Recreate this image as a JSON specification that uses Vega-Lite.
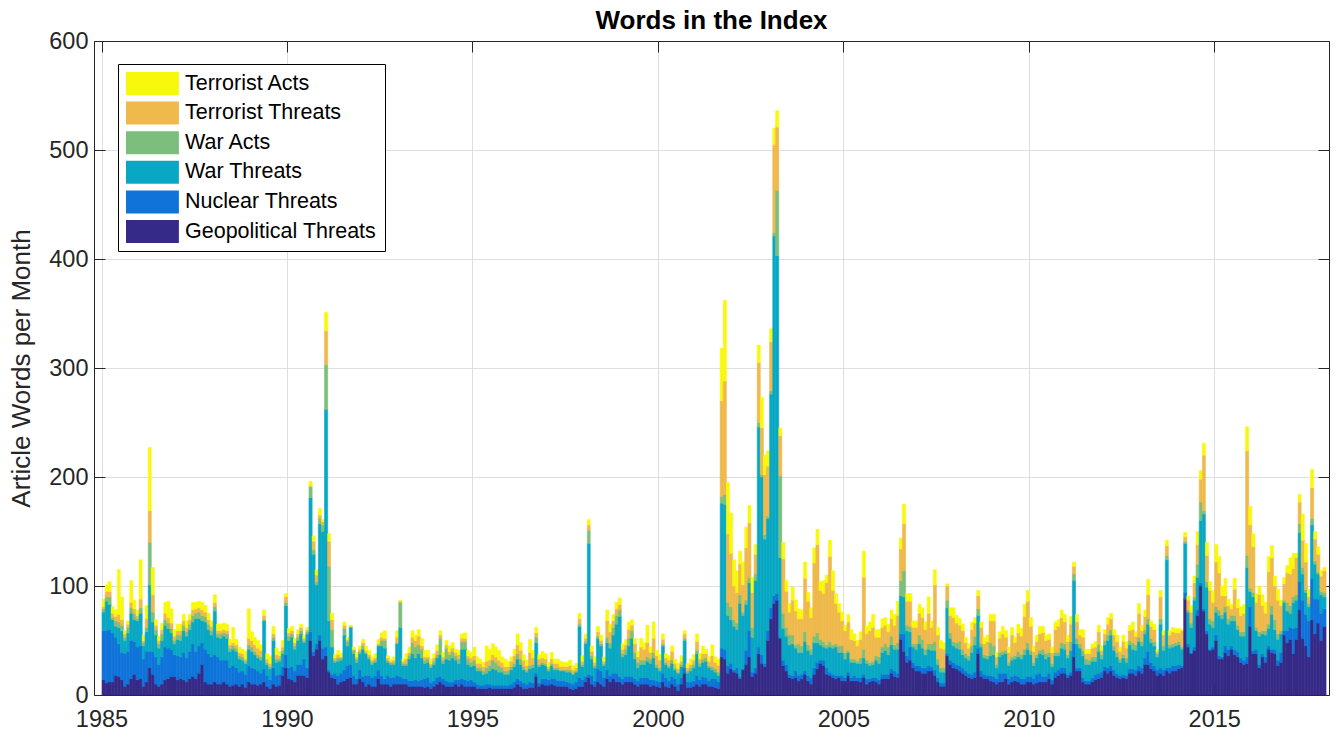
{
"$schema": "https://vega.github.io/schema/vega-lite/v6.json",
"width": 1235, "height": 654,
"autosize": {"type": "none"},
"padding": {"left": 94, "top": 41, "right": 8, "bottom": 43},
"background": "white",
"title": {"text": "Words in the Index", "fontSize": 26, "fontWeight": "bold", "font": "Liberation Sans", "color": "#000000", "anchor": "middle", "frame": "group", "baseline": "alphabetic", "offset": 0, "dy": 26},
"config": {"view": {"stroke": null}, "font": "Liberation Sans", "axis": {"minExtent": 0}},
"datasets": {
"series": [
{"key": "g", "name": "Geopolitical Threats", "rank": 1},
{"key": "n", "name": "Nuclear Threats", "rank": 2},
{"key": "w", "name": "War Threats", "rank": 3},
{"key": "a", "name": "War Acts", "rank": 4},
{"key": "t", "name": "Terrorist Threats", "rank": 5},
{"key": "y", "name": "Terrorist Acts", "rank": 6}
],
"gpr": [
{"m":"1985-01","g":14,"n":45,"w":17,"a":3,"t":2,"y":7},
{"m":"1985-02","g":11,"n":48,"w":27,"a":4,"t":5,"y":6},
{"m":"1985-03","g":12,"n":48,"w":23,"a":7,"t":5,"y":9},
{"m":"1985-04","g":12,"n":45,"w":12,"a":2,"t":4,"y":6},
{"m":"1985-05","g":18,"n":35,"w":10,"a":5,"t":4,"y":6},
{"m":"1985-06","g":17,"n":30,"w":15,"a":5,"t":7,"y":41},
{"m":"1985-07","g":14,"n":25,"w":20,"a":5,"t":5,"y":21},
{"m":"1985-08","g":8,"n":30,"w":12,"a":3,"t":3,"y":3},
{"m":"1985-09","g":10,"n":30,"w":17,"a":5,"t":3,"y":3},
{"m":"1985-10","g":15,"n":35,"w":25,"a":5,"t":5,"y":20},
{"m":"1985-11","g":19,"n":30,"w":20,"a":6,"t":4,"y":8},
{"m":"1985-12","g":14,"n":30,"w":24,"a":2,"t":3,"y":5},
{"m":"1986-01","g":15,"n":30,"w":30,"a":5,"t":8,"y":36},
{"m":"1986-02","g":8,"n":25,"w":12,"a":3,"t":2,"y":5},
{"m":"1986-03","g":12,"n":28,"w":18,"a":4,"t":8,"y":12},
{"m":"1986-04","g":25,"n":15,"w":61,"a":39,"t":29,"y":58},
{"m":"1986-05","g":19,"n":21,"w":27,"a":9,"t":16,"y":25},
{"m":"1986-06","g":10,"n":25,"w":20,"a":5,"t":4,"y":5},
{"m":"1986-07","g":8,"n":20,"w":15,"a":4,"t":3,"y":4},
{"m":"1986-08","g":10,"n":25,"w":15,"a":6,"t":4,"y":6},
{"m":"1986-09","g":14,"n":30,"w":20,"a":5,"t":6,"y":10},
{"m":"1986-10","g":15,"n":28,"w":18,"a":5,"t":5,"y":15},
{"m":"1986-11","g":17,"n":25,"w":15,"a":4,"t":5,"y":13},
{"m":"1986-12","g":17,"n":20,"w":10,"a":3,"t":4,"y":6},
{"m":"1987-01","g":14,"n":22,"w":15,"a":4,"t":4,"y":6},
{"m":"1987-02","g":15,"n":20,"w":15,"a":5,"t":4,"y":6},
{"m":"1987-03","g":14,"n":25,"w":20,"a":5,"t":4,"y":6},
{"m":"1987-04","g":12,"n":22,"w":20,"a":4,"t":4,"y":6},
{"m":"1987-05","g":15,"n":25,"w":20,"a":5,"t":4,"y":5},
{"m":"1987-06","g":17,"n":30,"w":20,"a":6,"t":5,"y":7},
{"m":"1987-07","g":15,"n":25,"w":30,"a":5,"t":4,"y":6},
{"m":"1987-08","g":20,"n":25,"w":25,"a":6,"t":4,"y":6},
{"m":"1987-09","g":28,"n":20,"w":20,"a":5,"t":5,"y":7},
{"m":"1987-10","g":12,"n":30,"w":25,"a":5,"t":4,"y":6},
{"m":"1987-11","g":10,"n":28,"w":22,"a":5,"t":4,"y":6},
{"m":"1987-12","g":10,"n":25,"w":20,"a":4,"t":4,"y":5},
{"m":"1988-01","g":12,"n":25,"w":40,"a":4,"t":4,"y":7},
{"m":"1988-02","g":10,"n":25,"w":18,"a":3,"t":3,"y":6},
{"m":"1988-03","g":10,"n":22,"w":20,"a":4,"t":3,"y":6},
{"m":"1988-04","g":12,"n":20,"w":22,"a":3,"t":3,"y":6},
{"m":"1988-05","g":10,"n":22,"w":20,"a":4,"t":3,"y":6},
{"m":"1988-06","g":8,"n":17,"w":15,"a":3,"t":3,"y":5},
{"m":"1988-07","g":9,"n":18,"w":15,"a":3,"t":3,"y":14},
{"m":"1988-08","g":10,"n":15,"w":15,"a":3,"t":3,"y":5},
{"m":"1988-09","g":8,"n":13,"w":12,"a":3,"t":3,"y":5},
{"m":"1988-10","g":10,"n":12,"w":10,"a":3,"t":3,"y":4},
{"m":"1988-11","g":7,"n":12,"w":10,"a":2,"t":2,"y":7},
{"m":"1988-12","g":12,"n":15,"w":15,"a":4,"t":6,"y":27},
{"m":"1989-01","g":10,"n":15,"w":15,"a":4,"t":6,"y":8},
{"m":"1989-02","g":10,"n":14,"w":13,"a":3,"t":6,"y":7},
{"m":"1989-03","g":9,"n":13,"w":12,"a":3,"t":6,"y":7},
{"m":"1989-04","g":10,"n":10,"w":12,"a":3,"t":6,"y":5},
{"m":"1989-05","g":12,"n":12,"w":44,"a":1,"t":4,"y":5},
{"m":"1989-06","g":8,"n":10,"w":10,"a":2,"t":3,"y":5},
{"m":"1989-07","g":6,"n":8,"w":10,"a":2,"t":3,"y":7},
{"m":"1989-08","g":10,"n":15,"w":25,"a":3,"t":3,"y":7},
{"m":"1989-09","g":8,"n":10,"w":12,"a":3,"t":4,"y":6},
{"m":"1989-10","g":9,"n":10,"w":12,"a":2,"t":3,"y":4},
{"m":"1989-11","g":18,"n":8,"w":12,"a":3,"t":3,"y":6},
{"m":"1989-12","g":25,"n":12,"w":45,"a":3,"t":5,"y":3},
{"m":"1990-01","g":15,"n":10,"w":25,"a":4,"t":3,"y":4},
{"m":"1990-02","g":14,"n":12,"w":27,"a":3,"t":3,"y":4},
{"m":"1990-03","g":12,"n":10,"w":20,"a":3,"t":3,"y":4},
{"m":"1990-04","g":18,"n":10,"w":22,"a":3,"t":3,"y":4},
{"m":"1990-05","g":18,"n":10,"w":28,"a":3,"t":3,"y":3},
{"m":"1990-06","g":18,"n":15,"w":15,"a":2,"t":2,"y":3},
{"m":"1990-07","g":16,"n":9,"w":31,"a":2,"t":2,"y":2},
{"m":"1990-08","g":50,"n":8,"w":123,"a":10,"t":1,"y":4},
{"m":"1990-09","g":36,"n":4,"w":89,"a":4,"t":8,"y":5},
{"m":"1990-10","g":42,"n":5,"w":54,"a":3,"t":6,"y":5},
{"m":"1990-11","g":50,"n":5,"w":102,"a":5,"t":3,"y":6},
{"m":"1990-12","g":33,"n":10,"w":107,"a":6,"t":3,"y":2},
{"m":"1991-01","g":36,"n":8,"w":218,"a":41,"t":31,"y":17},
{"m":"1991-02","g":21,"n":2,"w":45,"a":50,"t":23,"y":7},
{"m":"1991-03","g":16,"n":3,"w":25,"a":16,"t":9,"y":6},
{"m":"1991-04","g":15,"n":5,"w":10,"a":2,"t":2,"y":3},
{"m":"1991-05","g":10,"n":8,"w":13,"a":3,"t":3,"y":4},
{"m":"1991-06","g":12,"n":8,"w":12,"a":2,"t":1,"y":3},
{"m":"1991-07","g":13,"n":10,"w":32,"a":6,"t":3,"y":3},
{"m":"1991-08","g":15,"n":12,"w":18,"a":4,"t":2,"y":2},
{"m":"1991-09","g":16,"n":12,"w":34,"a":1,"t":0,"y":1},
{"m":"1991-10","g":10,"n":8,"w":20,"a":3,"t":1,"y":2},
{"m":"1991-11","g":10,"n":5,"w":15,"a":3,"t":2,"y":4},
{"m":"1991-12","g":15,"n":8,"w":15,"a":2,"t":2,"y":3},
{"m":"1992-01","g":12,"n":5,"w":25,"a":3,"t":3,"y":3},
{"m":"1992-02","g":8,"n":10,"w":20,"a":1,"t":2,"y":4},
{"m":"1992-03","g":10,"n":8,"w":15,"a":2,"t":2,"y":4},
{"m":"1992-04","g":8,"n":8,"w":12,"a":2,"t":2,"y":3},
{"m":"1992-05","g":8,"n":10,"w":12,"a":2,"t":2,"y":4},
{"m":"1992-06","g":15,"n":8,"w":22,"a":1,"t":1,"y":4},
{"m":"1992-07","g":10,"n":8,"w":27,"a":5,"t":3,"y":4},
{"m":"1992-08","g":10,"n":5,"w":28,"a":7,"t":2,"y":7},
{"m":"1992-09","g":10,"n":8,"w":12,"a":2,"t":2,"y":2},
{"m":"1992-10","g":8,"n":8,"w":12,"a":2,"t":1,"y":2},
{"m":"1992-11","g":10,"n":6,"w":12,"a":2,"t":2,"y":3},
{"m":"1992-12","g":10,"n":8,"w":29,"a":1,"t":5,"y":6},
{"m":"1993-01","g":10,"n":7,"w":45,"a":23,"t":1,"y":1},
{"m":"1993-02","g":10,"n":5,"w":12,"a":2,"t":2,"y":2},
{"m":"1993-03","g":10,"n":5,"w":12,"a":2,"t":4,"y":5},
{"m":"1993-04","g":8,"n":5,"w":20,"a":3,"t":3,"y":5},
{"m":"1993-05","g":8,"n":5,"w":25,"a":10,"t":5,"y":6},
{"m":"1993-06","g":8,"n":6,"w":20,"a":10,"t":6,"y":5},
{"m":"1993-07","g":8,"n":5,"w":25,"a":8,"t":8,"y":6},
{"m":"1993-08","g":8,"n":6,"w":20,"a":8,"t":3,"y":7},
{"m":"1993-09","g":7,"n":8,"w":14,"a":3,"t":3,"y":6},
{"m":"1993-10","g":8,"n":8,"w":14,"a":3,"t":2,"y":6},
{"m":"1993-11","g":6,"n":5,"w":14,"a":2,"t":2,"y":4},
{"m":"1993-12","g":8,"n":5,"w":15,"a":3,"t":3,"y":4},
{"m":"1994-01","g":10,"n":6,"w":18,"a":3,"t":4,"y":5},
{"m":"1994-02","g":12,"n":5,"w":20,"a":15,"t":3,"y":4},
{"m":"1994-03","g":10,"n":5,"w":14,"a":3,"t":3,"y":4},
{"m":"1994-04","g":8,"n":5,"w":20,"a":10,"t":3,"y":4},
{"m":"1994-05","g":8,"n":4,"w":20,"a":5,"t":3,"y":5},
{"m":"1994-06","g":8,"n":4,"w":22,"a":6,"t":3,"y":5},
{"m":"1994-07","g":10,"n":4,"w":18,"a":4,"t":3,"y":3},
{"m":"1994-08","g":8,"n":6,"w":15,"a":4,"t":4,"y":4},
{"m":"1994-09","g":10,"n":5,"w":27,"a":7,"t":3,"y":4},
{"m":"1994-10","g":8,"n":6,"w":28,"a":7,"t":3,"y":5},
{"m":"1994-11","g":8,"n":5,"w":15,"a":5,"t":3,"y":5},
{"m":"1994-12","g":8,"n":6,"w":12,"a":4,"t":4,"y":5},
{"m":"1995-01","g":8,"n":4,"w":15,"a":5,"t":4,"y":8},
{"m":"1995-02","g":6,"n":4,"w":12,"a":3,"t":4,"y":6},
{"m":"1995-03","g":6,"n":3,"w":13,"a":3,"t":4,"y":4},
{"m":"1995-04","g":6,"n":3,"w":10,"a":3,"t":4,"y":4},
{"m":"1995-05","g":6,"n":4,"w":10,"a":5,"t":6,"y":14},
{"m":"1995-06","g":7,"n":3,"w":12,"a":5,"t":5,"y":10},
{"m":"1995-07","g":6,"n":3,"w":15,"a":8,"t":5,"y":10},
{"m":"1995-08","g":6,"n":3,"w":14,"a":7,"t":5,"y":9},
{"m":"1995-09","g":6,"n":3,"w":12,"a":6,"t":5,"y":9},
{"m":"1995-10","g":6,"n":3,"w":12,"a":4,"t":5,"y":5},
{"m":"1995-11","g":6,"n":3,"w":10,"a":3,"t":4,"y":7},
{"m":"1995-12","g":6,"n":3,"w":10,"a":3,"t":4,"y":5},
{"m":"1996-01","g":6,"n":4,"w":13,"a":3,"t":5,"y":4},
{"m":"1996-02","g":7,"n":5,"w":14,"a":3,"t":7,"y":6},
{"m":"1996-03","g":10,"n":5,"w":18,"a":5,"t":8,"y":10},
{"m":"1996-04","g":8,"n":5,"w":15,"a":5,"t":8,"y":7},
{"m":"1996-05","g":6,"n":5,"w":12,"a":3,"t":6,"y":5},
{"m":"1996-06","g":6,"n":4,"w":11,"a":2,"t":4,"y":5},
{"m":"1996-07","g":7,"n":5,"w":12,"a":3,"t":12,"y":12},
{"m":"1996-08","g":7,"n":4,"w":14,"a":3,"t":6,"y":7},
{"m":"1996-09","g":17,"n":3,"w":28,"a":5,"t":4,"y":5},
{"m":"1996-10","g":8,"n":3,"w":15,"a":2,"t":5,"y":4},
{"m":"1996-11","g":10,"n":5,"w":13,"a":2,"t":4,"y":6},
{"m":"1996-12","g":9,"n":6,"w":12,"a":2,"t":4,"y":5},
{"m":"1997-01","g":9,"n":5,"w":8,"a":2,"t":2,"y":4},
{"m":"1997-02","g":10,"n":5,"w":12,"a":2,"t":4,"y":6},
{"m":"1997-03","g":9,"n":6,"w":8,"a":2,"t":4,"y":4},
{"m":"1997-04","g":8,"n":5,"w":10,"a":2,"t":4,"y":4},
{"m":"1997-05","g":8,"n":5,"w":9,"a":1,"t":3,"y":5},
{"m":"1997-06","g":8,"n":5,"w":9,"a":1,"t":3,"y":4},
{"m":"1997-07","g":8,"n":4,"w":9,"a":2,"t":3,"y":4},
{"m":"1997-08","g":6,"n":5,"w":10,"a":2,"t":4,"y":5},
{"m":"1997-09","g":5,"n":5,"w":9,"a":1,"t":3,"y":4},
{"m":"1997-10","g":6,"n":6,"w":9,"a":1,"t":3,"y":4},
{"m":"1997-11","g":8,"n":8,"w":47,"a":2,"t":5,"y":5},
{"m":"1997-12","g":8,"n":6,"w":12,"a":2,"t":3,"y":5},
{"m":"1998-01","g":12,"n":5,"w":30,"a":2,"t":3,"y":4},
{"m":"1998-02","g":16,"n":3,"w":120,"a":12,"t":5,"y":5},
{"m":"1998-03","g":10,"n":8,"w":15,"a":3,"t":4,"y":5},
{"m":"1998-04","g":8,"n":5,"w":12,"a":2,"t":3,"y":5},
{"m":"1998-05","g":12,"n":12,"w":28,"a":2,"t":4,"y":5},
{"m":"1998-06","g":10,"n":12,"w":23,"a":2,"t":3,"y":5},
{"m":"1998-07","g":8,"n":8,"w":11,"a":2,"t":2,"y":4},
{"m":"1998-08","g":15,"n":8,"w":25,"a":5,"t":15,"y":10},
{"m":"1998-09","g":12,"n":6,"w":25,"a":5,"t":10,"y":7},
{"m":"1998-10","g":15,"n":5,"w":35,"a":7,"t":6,"y":6},
{"m":"1998-11","g":12,"n":8,"w":45,"a":8,"t":6,"y":6},
{"m":"1998-12","g":12,"n":5,"w":55,"a":6,"t":5,"y":6},
{"m":"1999-01","g":10,"n":5,"w":20,"a":3,"t":4,"y":5},
{"m":"1999-02","g":12,"n":5,"w":20,"a":5,"t":4,"y":5},
{"m":"1999-03","g":12,"n":5,"w":28,"a":7,"t":8,"y":7},
{"m":"1999-04","g":12,"n":5,"w":35,"a":7,"t":5,"y":5},
{"m":"1999-05","g":10,"n":5,"w":18,"a":6,"t":8,"y":5},
{"m":"1999-06","g":8,"n":5,"w":12,"a":5,"t":5,"y":5},
{"m":"1999-07","g":10,"n":6,"w":12,"a":4,"t":12,"y":8},
{"m":"1999-08","g":10,"n":6,"w":12,"a":4,"t":10,"y":6},
{"m":"1999-09","g":10,"n":6,"w":15,"a":4,"t":13,"y":16},
{"m":"1999-10","g":8,"n":6,"w":15,"a":4,"t":6,"y":5},
{"m":"1999-11","g":9,"n":5,"w":20,"a":5,"t":13,"y":15},
{"m":"1999-12","g":8,"n":5,"w":12,"a":3,"t":8,"y":5},
{"m":"2000-01","g":7,"n":5,"w":10,"a":3,"t":7,"y":5},
{"m":"2000-02","g":12,"n":8,"w":25,"a":2,"t":4,"y":5},
{"m":"2000-03","g":8,"n":8,"w":12,"a":2,"t":4,"y":4},
{"m":"2000-04","g":7,"n":6,"w":12,"a":2,"t":5,"y":4},
{"m":"2000-05","g":10,"n":7,"w":12,"a":3,"t":8,"y":5},
{"m":"2000-06","g":8,"n":7,"w":8,"a":2,"t":4,"y":4},
{"m":"2000-07","g":4,"n":6,"w":10,"a":1,"t":3,"y":5},
{"m":"2000-08","g":10,"n":6,"w":10,"a":2,"t":3,"y":5},
{"m":"2000-09","g":20,"n":5,"w":25,"a":2,"t":4,"y":3},
{"m":"2000-10","g":7,"n":5,"w":8,"a":2,"t":3,"y":4},
{"m":"2000-11","g":7,"n":5,"w":10,"a":3,"t":3,"y":5},
{"m":"2000-12","g":8,"n":5,"w":12,"a":3,"t":4,"y":5},
{"m":"2001-01","g":10,"n":8,"w":20,"a":3,"t":8,"y":7},
{"m":"2001-02","g":8,"n":6,"w":12,"a":3,"t":4,"y":5},
{"m":"2001-03","g":10,"n":7,"w":13,"a":3,"t":5,"y":7},
{"m":"2001-04","g":10,"n":6,"w":15,"a":3,"t":4,"y":4},
{"m":"2001-05","g":8,"n":5,"w":12,"a":2,"t":4,"y":4},
{"m":"2001-06","g":8,"n":7,"w":8,"a":3,"t":10,"y":10},
{"m":"2001-07","g":7,"n":8,"w":6,"a":3,"t":6,"y":5},
{"m":"2001-08","g":6,"n":6,"w":6,"a":3,"t":6,"y":6},
{"m":"2001-09","g":35,"n":8,"w":133,"a":6,"t":88,"y":48},
{"m":"2001-10","g":33,"n":9,"w":133,"a":9,"t":104,"y":74},
{"m":"2001-11","g":20,"n":7,"w":46,"a":12,"t":63,"y":47},
{"m":"2001-12","g":24,"n":5,"w":40,"a":12,"t":49,"y":37},
{"m":"2002-01","g":21,"n":2,"w":40,"a":6,"t":31,"y":24},
{"m":"2002-02","g":20,"n":5,"w":35,"a":6,"t":28,"y":20},
{"m":"2002-03","g":15,"n":2,"w":67,"a":8,"t":28,"y":12},
{"m":"2002-04","g":23,"n":1,"w":49,"a":3,"t":25,"y":21},
{"m":"2002-05","g":28,"n":13,"w":42,"a":4,"t":48,"y":19},
{"m":"2002-06","g":35,"n":24,"w":44,"a":5,"t":50,"y":16},
{"m":"2002-07","g":17,"n":4,"w":32,"a":9,"t":32,"y":14},
{"m":"2002-08","g":20,"n":5,"w":80,"a":6,"t":18,"y":9},
{"m":"2002-09","g":38,"n":6,"w":202,"a":4,"t":55,"y":16},
{"m":"2002-10","g":29,"n":8,"w":163,"a":2,"t":43,"y":28},
{"m":"2002-11","g":26,"n":3,"w":114,"a":4,"t":55,"y":18},
{"m":"2002-12","g":50,"n":9,"w":103,"a":2,"t":46,"y":14},
{"m":"2003-01","g":70,"n":10,"w":196,"a":3,"t":45,"y":12},
{"m":"2003-02","g":84,"n":7,"w":330,"a":3,"t":81,"y":15},
{"m":"2003-03","g":87,"n":6,"w":310,"a":60,"t":58,"y":15},
{"m":"2003-04","g":52,"n":1,"w":73,"a":75,"t":37,"y":7},
{"m":"2003-05","g":27,"n":5,"w":29,"a":14,"t":50,"y":15},
{"m":"2003-06","g":22,"n":6,"w":26,"a":8,"t":33,"y":10},
{"m":"2003-07","g":16,"n":3,"w":27,"a":9,"t":21,"y":8},
{"m":"2003-08","g":15,"n":3,"w":29,"a":8,"t":32,"y":12},
{"m":"2003-09","g":16,"n":6,"w":21,"a":3,"t":31,"y":10},
{"m":"2003-10","g":13,"n":5,"w":21,"a":8,"t":23,"y":9},
{"m":"2003-11","g":15,"n":4,"w":20,"a":6,"t":25,"y":8},
{"m":"2003-12","g":19,"n":3,"w":27,"a":9,"t":49,"y":15},
{"m":"2004-01","g":13,"n":5,"w":23,"a":5,"t":40,"y":8},
{"m":"2004-02","g":10,"n":6,"w":21,"a":5,"t":29,"y":9},
{"m":"2004-03","g":19,"n":6,"w":23,"a":6,"t":67,"y":14},
{"m":"2004-04","g":24,"n":6,"w":18,"a":9,"t":81,"y":14},
{"m":"2004-05","g":29,"n":3,"w":14,"a":5,"t":45,"y":8},
{"m":"2004-06","g":27,"n":5,"w":12,"a":5,"t":44,"y":12},
{"m":"2004-07","g":19,"n":6,"w":18,"a":3,"t":57,"y":7},
{"m":"2004-08","g":18,"n":3,"w":23,"a":5,"t":78,"y":15},
{"m":"2004-09","g":16,"n":3,"w":24,"a":3,"t":50,"y":18},
{"m":"2004-10","g":15,"n":3,"w":26,"a":3,"t":37,"y":9},
{"m":"2004-11","g":16,"n":2,"w":21,"a":6,"t":31,"y":8},
{"m":"2004-12","g":13,"n":5,"w":21,"a":6,"t":23,"y":8},
{"m":"2005-01","g":13,"n":3,"w":17,"a":6,"t":20,"y":5},
{"m":"2005-02","g":18,"n":3,"w":18,"a":2,"t":26,"y":7},
{"m":"2005-03","g":13,"n":3,"w":14,"a":3,"t":18,"y":9},
{"m":"2005-04","g":13,"n":5,"w":12,"a":3,"t":17,"y":6},
{"m":"2005-05","g":13,"n":3,"w":13,"a":2,"t":14,"y":5},
{"m":"2005-06","g":12,"n":4,"w":13,"a":5,"t":17,"y":7},
{"m":"2005-07","g":16,"n":3,"w":15,"a":8,"t":66,"y":24},
{"m":"2005-08","g":10,"n":5,"w":14,"a":3,"t":24,"y":7},
{"m":"2005-09","g":12,"n":3,"w":12,"a":3,"t":29,"y":8},
{"m":"2005-10","g":13,"n":3,"w":12,"a":3,"t":31,"y":12},
{"m":"2005-11","g":12,"n":4,"w":16,"a":4,"t":17,"y":7},
{"m":"2005-12","g":10,"n":4,"w":15,"a":6,"t":18,"y":7},
{"m":"2006-01","g":15,"n":4,"w":20,"a":5,"t":18,"y":8},
{"m":"2006-02","g":15,"n":4,"w":22,"a":6,"t":17,"y":7},
{"m":"2006-03","g":15,"n":4,"w":18,"a":7,"t":14,"y":7},
{"m":"2006-04","g":20,"n":4,"w":22,"a":8,"t":16,"y":8},
{"m":"2006-05","g":17,"n":5,"w":20,"a":4,"t":18,"y":10},
{"m":"2006-06","g":16,"n":4,"w":22,"a":6,"t":25,"y":13},
{"m":"2006-07","g":51,"n":5,"w":35,"a":14,"t":29,"y":10},
{"m":"2006-08","g":40,"n":16,"w":34,"a":24,"t":43,"y":18},
{"m":"2006-09","g":30,"n":6,"w":23,"a":5,"t":22,"y":7},
{"m":"2006-10","g":32,"n":12,"w":14,"a":5,"t":23,"y":7},
{"m":"2006-11","g":25,"n":5,"w":14,"a":3,"t":15,"y":6},
{"m":"2006-12","g":22,"n":5,"w":15,"a":5,"t":15,"y":6},
{"m":"2007-01","g":22,"n":5,"w":20,"a":8,"t":20,"y":8},
{"m":"2007-02","g":20,"n":5,"w":18,"a":8,"t":20,"y":9},
{"m":"2007-03","g":20,"n":5,"w":12,"a":5,"t":18,"y":7},
{"m":"2007-04","g":22,"n":5,"w":15,"a":5,"t":28,"y":15},
{"m":"2007-05","g":22,"n":4,"w":15,"a":6,"t":15,"y":6},
{"m":"2007-06","g":18,"n":5,"w":18,"a":8,"t":52,"y":14},
{"m":"2007-07","g":12,"n":4,"w":12,"a":5,"t":22,"y":7},
{"m":"2007-08","g":8,"n":3,"w":10,"a":4,"t":18,"y":7},
{"m":"2007-09","g":8,"n":3,"w":10,"a":4,"t":17,"y":6},
{"m":"2007-10","g":36,"n":2,"w":42,"a":7,"t":13,"y":2},
{"m":"2007-11","g":28,"n":4,"w":20,"a":5,"t":16,"y":7},
{"m":"2007-12","g":25,"n":5,"w":15,"a":4,"t":22,"y":9},
{"m":"2008-01","g":24,"n":4,"w":15,"a":5,"t":18,"y":7},
{"m":"2008-02","g":22,"n":5,"w":15,"a":7,"t":15,"y":6},
{"m":"2008-03","g":20,"n":5,"w":12,"a":5,"t":17,"y":6},
{"m":"2008-04","g":18,"n":4,"w":12,"a":4,"t":10,"y":5},
{"m":"2008-05","g":16,"n":4,"w":12,"a":4,"t":7,"y":4},
{"m":"2008-06","g":15,"n":4,"w":20,"a":6,"t":15,"y":7},
{"m":"2008-07","g":16,"n":5,"w":25,"a":8,"t":12,"y":5},
{"m":"2008-08","g":38,"n":5,"w":30,"a":6,"t":12,"y":5},
{"m":"2008-09","g":17,"n":5,"w":22,"a":3,"t":15,"y":5},
{"m":"2008-10","g":15,"n":4,"w":15,"a":3,"t":10,"y":6},
{"m":"2008-11","g":15,"n":3,"w":15,"a":3,"t":13,"y":6},
{"m":"2008-12","g":13,"n":5,"w":18,"a":12,"t":20,"y":6},
{"m":"2009-01","g":12,"n":5,"w":20,"a":8,"t":23,"y":6},
{"m":"2009-02","g":10,"n":5,"w":10,"a":3,"t":7,"y":4},
{"m":"2009-03","g":12,"n":8,"w":15,"a":4,"t":13,"y":6},
{"m":"2009-04","g":12,"n":8,"w":17,"a":3,"t":16,"y":7},
{"m":"2009-05","g":15,"n":5,"w":18,"a":3,"t":12,"y":6},
{"m":"2009-06","g":10,"n":5,"w":12,"a":3,"t":9,"y":5},
{"m":"2009-07","g":12,"n":5,"w":15,"a":3,"t":20,"y":7},
{"m":"2009-08","g":13,"n":5,"w":15,"a":3,"t":12,"y":5},
{"m":"2009-09","g":12,"n":5,"w":18,"a":5,"t":17,"y":8},
{"m":"2009-10","g":10,"n":5,"w":18,"a":4,"t":17,"y":7},
{"m":"2009-11","g":10,"n":5,"w":22,"a":5,"t":30,"y":11},
{"m":"2009-12","g":12,"n":5,"w":25,"a":6,"t":38,"y":10},
{"m":"2010-01","g":12,"n":5,"w":20,"a":4,"t":22,"y":8},
{"m":"2010-02","g":10,"n":5,"w":12,"a":3,"t":10,"y":5},
{"m":"2010-03","g":11,"n":8,"w":15,"a":3,"t":12,"y":6},
{"m":"2010-04","g":12,"n":8,"w":18,"a":3,"t":15,"y":7},
{"m":"2010-05","g":12,"n":5,"w":20,"a":5,"t":15,"y":6},
{"m":"2010-06","g":12,"n":5,"w":16,"a":5,"t":12,"y":5},
{"m":"2010-07","g":15,"n":5,"w":15,"a":4,"t":12,"y":5},
{"m":"2010-08","g":10,"n":4,"w":12,"a":3,"t":10,"y":5},
{"m":"2010-09","g":16,"n":5,"w":15,"a":3,"t":21,"y":7},
{"m":"2010-10","g":18,"n":5,"w":13,"a":3,"t":24,"y":6},
{"m":"2010-11","g":20,"n":5,"w":18,"a":5,"t":23,"y":7},
{"m":"2010-12","g":20,"n":5,"w":17,"a":5,"t":20,"y":7},
{"m":"2011-01","g":16,"n":3,"w":15,"a":3,"t":12,"y":6},
{"m":"2011-02","g":18,"n":3,"w":20,"a":8,"t":16,"y":7},
{"m":"2011-03","g":35,"n":12,"w":58,"a":6,"t":7,"y":4},
{"m":"2011-04","g":22,"n":3,"w":22,"a":5,"t":15,"y":7},
{"m":"2011-05","g":22,"n":3,"w":18,"a":4,"t":8,"y":5},
{"m":"2011-06","g":12,"n":4,"w":20,"a":5,"t":12,"y":7},
{"m":"2011-07","g":10,"n":3,"w":15,"a":5,"t":5,"y":4},
{"m":"2011-08","g":10,"n":3,"w":15,"a":4,"t":6,"y":4},
{"m":"2011-09","g":12,"n":4,"w":15,"a":4,"t":8,"y":4},
{"m":"2011-10","g":14,"n":5,"w":12,"a":4,"t":9,"y":5},
{"m":"2011-11","g":15,"n":5,"w":20,"a":6,"t":12,"y":6},
{"m":"2011-12","g":16,"n":5,"w":12,"a":4,"t":4,"y":4},
{"m":"2012-01","g":22,"n":4,"w":20,"a":4,"t":6,"y":4},
{"m":"2012-02","g":20,"n":5,"w":25,"a":5,"t":10,"y":6},
{"m":"2012-03","g":22,"n":5,"w":28,"a":5,"t":10,"y":5},
{"m":"2012-04","g":18,"n":5,"w":18,"a":4,"t":10,"y":5},
{"m":"2012-05","g":16,"n":4,"w":15,"a":4,"t":10,"y":6},
{"m":"2012-06","g":15,"n":3,"w":12,"a":3,"t":7,"y":4},
{"m":"2012-07","g":16,"n":3,"w":15,"a":3,"t":12,"y":6},
{"m":"2012-08","g":15,"n":3,"w":12,"a":4,"t":9,"y":6},
{"m":"2012-09","g":20,"n":4,"w":22,"a":4,"t":9,"y":5},
{"m":"2012-10","g":20,"n":4,"w":18,"a":6,"t":12,"y":7},
{"m":"2012-11","g":18,"n":5,"w":18,"a":5,"t":8,"y":4},
{"m":"2012-12","g":22,"n":5,"w":22,"a":4,"t":22,"y":9},
{"m":"2013-01","g":20,"n":5,"w":20,"a":4,"t":10,"y":5},
{"m":"2013-02","g":28,"n":6,"w":22,"a":4,"t":12,"y":6},
{"m":"2013-03","g":28,"n":12,"w":25,"a":5,"t":22,"y":14},
{"m":"2013-04","g":24,"n":6,"w":18,"a":4,"t":11,"y":5},
{"m":"2013-05","g":22,"n":5,"w":18,"a":4,"t":11,"y":5},
{"m":"2013-06","g":18,"n":5,"w":12,"a":3,"t":2,"y":2},
{"m":"2013-07","g":20,"n":5,"w":40,"a":5,"t":20,"y":6},
{"m":"2013-08","g":18,"n":5,"w":18,"a":4,"t":10,"y":4},
{"m":"2013-09","g":22,"n":3,"w":99,"a":4,"t":9,"y":5},
{"m":"2013-10","g":20,"n":5,"w":18,"a":3,"t":9,"y":4},
{"m":"2013-11","g":22,"n":5,"w":17,"a":3,"t":11,"y":4},
{"m":"2013-12","g":22,"n":5,"w":18,"a":3,"t":9,"y":4},
{"m":"2014-01","g":24,"n":4,"w":18,"a":3,"t":8,"y":4},
{"m":"2014-02","g":25,"n":2,"w":15,"a":2,"t":15,"y":1},
{"m":"2014-03","g":88,"n":6,"w":45,"a":2,"t":4,"y":4},
{"m":"2014-04","g":44,"n":3,"w":29,"a":2,"t":9,"y":4},
{"m":"2014-05","g":38,"n":1,"w":23,"a":4,"t":10,"y":6},
{"m":"2014-06","g":41,"n":3,"w":43,"a":3,"t":13,"y":6},
{"m":"2014-07","g":73,"n":5,"w":30,"a":12,"t":18,"y":12},
{"m":"2014-08","g":100,"n":3,"w":57,"a":17,"t":21,"y":8},
{"m":"2014-09","g":77,"n":2,"w":87,"a":3,"t":51,"y":11},
{"m":"2014-10","g":56,"n":3,"w":40,"a":5,"t":24,"y":12},
{"m":"2014-11","g":41,"n":1,"w":23,"a":5,"t":26,"y":8},
{"m":"2014-12","g":42,"n":2,"w":18,"a":6,"t":17,"y":11},
{"m":"2015-01","g":50,"n":5,"w":21,"a":5,"t":41,"y":16},
{"m":"2015-02","g":33,"n":3,"w":37,"a":5,"t":34,"y":15},
{"m":"2015-03","g":33,"n":2,"w":35,"a":4,"t":17,"y":9},
{"m":"2015-04","g":39,"n":6,"w":31,"a":5,"t":10,"y":16},
{"m":"2015-05","g":36,"n":6,"w":23,"a":5,"t":12,"y":6},
{"m":"2015-06","g":42,"n":3,"w":23,"a":5,"t":6,"y":4},
{"m":"2015-07","g":37,"n":5,"w":26,"a":5,"t":24,"y":10},
{"m":"2015-08","g":35,"n":5,"w":20,"a":4,"t":16,"y":8},
{"m":"2015-09","g":30,"n":4,"w":20,"a":4,"t":15,"y":8},
{"m":"2015-10","g":28,"n":4,"w":22,"a":4,"t":17,"y":8},
{"m":"2015-11","g":29,"n":6,"w":82,"a":11,"t":96,"y":22},
{"m":"2015-12","g":63,"n":18,"w":14,"a":3,"t":58,"y":17},
{"m":"2016-01","g":38,"n":3,"w":49,"a":4,"t":42,"y":12},
{"m":"2016-02","g":38,"n":4,"w":17,"a":3,"t":23,"y":8},
{"m":"2016-03","g":25,"n":3,"w":26,"a":4,"t":34,"y":8},
{"m":"2016-04","g":35,"n":3,"w":18,"a":3,"t":23,"y":10},
{"m":"2016-05","g":30,"n":5,"w":20,"a":4,"t":16,"y":10},
{"m":"2016-06","g":42,"n":3,"w":16,"a":4,"t":48,"y":14},
{"m":"2016-07","g":39,"n":3,"w":32,"a":8,"t":44,"y":11},
{"m":"2016-08","g":38,"n":4,"w":18,"a":9,"t":31,"y":9},
{"m":"2016-09","g":27,"n":5,"w":19,"a":5,"t":31,"y":10},
{"m":"2016-10","g":30,"n":9,"w":17,"a":3,"t":23,"y":5},
{"m":"2016-11","g":55,"n":4,"w":26,"a":2,"t":15,"y":6},
{"m":"2016-12","g":48,"n":11,"w":18,"a":8,"t":27,"y":7},
{"m":"2017-01","g":51,"n":11,"w":13,"a":7,"t":29,"y":15},
{"m":"2017-02","g":38,"n":23,"w":24,"a":5,"t":26,"y":14},
{"m":"2017-03","g":51,"n":11,"w":25,"a":5,"t":34,"y":4},
{"m":"2017-04","g":78,"n":26,"w":45,"a":8,"t":20,"y":7},
{"m":"2017-05","g":52,"n":35,"w":24,"a":6,"t":25,"y":24},
{"m":"2017-06","g":45,"n":29,"w":20,"a":3,"t":25,"y":17},
{"m":"2017-07","g":35,"n":33,"w":13,"a":3,"t":6,"y":7},
{"m":"2017-08","g":69,"n":38,"w":49,"a":6,"t":28,"y":17},
{"m":"2017-09","g":56,"n":32,"w":32,"a":3,"t":20,"y":7},
{"m":"2017-10","g":66,"n":22,"w":23,"a":2,"t":16,"y":7},
{"m":"2017-11","g":50,"n":25,"w":17,"a":3,"t":14,"y":5},
{"m":"2017-12","g":63,"n":16,"w":11,"a":4,"t":20,"y":3}
]
},
"resolve": {"axis": {"x": "independent", "y": "independent"}},
"layer": [
{
"data": {"name": "gpr"},
"transform": [
{"fold": ["g", "n", "w", "a", "t", "y"], "as": ["key", "value"]},
{"lookup": "key", "from": {"data": {"name": "series"}, "key": "key", "fields": ["name", "rank"]}}
],
"mark": {"type": "bar", "binSpacing": 0, "strokeWidth": 0.6},
"encoding": {
"x": {"field": "m", "type": "temporal", "timeUnit": "utcyearmonth", "title": null,
"scale": {"domain": [{"year": 1984, "month": 10, "date": 19, "utc": true}, {"year": 2018, "month": 2, "date": 4, "utc": true}]},
"axis": {"orient": "bottom", "values": [{"year": 1985, "utc": true}, {"year": 1990, "utc": true}, {"year": 1995, "utc": true}, {"year": 2000, "utc": true}, {"year": 2005, "utc": true}, {"year": 2010, "utc": true}, {"year": 2015, "utc": true}],
"labelExpr": "utcFormat(datum.value, '%Y')", "labelFont": "Liberation Sans", "labelFontSize": 23.5, "labelColor": "#262626",
"tickSize": -11, "tickColor": "#262626", "tickWidth": 1, "labelPadding": 23,
"domain": true, "domainColor": "#262626", "domainWidth": 1,
"grid": true, "gridColor": "#DEDEDE", "gridWidth": 1, "labelFlush": false}},
"y": {"field": "value", "type": "quantitative", "aggregate": "sum", "stack": "zero",
"scale": {"domain": [0, 600], "nice": false, "zero": true},
"axis": {"orient": "left", "values": [0, 100, 200, 300, 400, 500, 600], "title": "Article Words per Month",
"titleFont": "Liberation Sans", "titleFontSize": 26, "titleFontWeight": "normal", "titleColor": "#262626", "titlePadding": 14,
"labelFont": "Liberation Sans", "labelFontSize": 23.5, "labelColor": "#262626",
"tickSize": -11, "tickColor": "#262626", "tickWidth": 1, "labelPadding": 17,
"domain": true, "domainColor": "#262626", "domainWidth": 1,
"grid": true, "gridColor": "#DEDEDE", "gridWidth": 1, "labelFlush": false}},
"color": {"field": "name", "type": "nominal",
"scale": {"domain": ["Terrorist Acts", "Terrorist Threats", "War Acts", "War Threats", "Nuclear Threats", "Geopolitical Threats"],
"range": ["#F8F80D", "#EFB94C", "#7CBF7C", "#08A8C4", "#0E74DA", "#352A87"]},
"legend": {"orient": "none", "legendX": 24, "legendY": 23, "direction": "vertical", "title": null,
"strokeColor": "#000000", "fillColor": "#FFFFFF", "padding": 8,
"symbolType": "M-1,-1H3.6V1H-1Z", "symbolSize": 529, "symbolStrokeWidth": 0, "symbolOpacity": 1,
"labelFont": "Liberation Sans", "labelFontSize": 21.5, "labelColor": "#000000", "labelOffset": 36, "rowPadding": 6.6, "labelLimit": 400}},
"stroke": {"field": "name", "type": "nominal", "legend": null,
"scale": {"domain": ["Terrorist Acts", "Terrorist Threats", "War Acts", "War Threats", "Nuclear Threats", "Geopolitical Threats"],
"range": ["#F8F80D", "#EFB94C", "#7CBF7C", "#08A8C4", "#0E74DA", "#352A87"]}},
"order": {"field": "rank", "type": "quantitative", "sort": "ascending"}
}
},
{
"data": {"values": [{"m": "2000-01", "value": 0}]},
"mark": {"type": "point", "opacity": 0},
"encoding": {
"x": {"field": "m", "type": "temporal", "timeUnit": "utcyearmonth", "title": null,
"axis": {"orient": "top", "values": [{"year": 1985, "utc": true}, {"year": 1990, "utc": true}, {"year": 1995, "utc": true}, {"year": 2000, "utc": true}, {"year": 2005, "utc": true}, {"year": 2010, "utc": true}, {"year": 2015, "utc": true}],
"labels": false, "minExtent": 0, "maxExtent": 0, "tickSize": -11, "tickColor": "#262626", "tickWidth": 1, "domain": true, "domainColor": "#262626", "domainWidth": 1, "grid": false}},
"y": {"field": "value", "type": "quantitative", "title": null,
"axis": {"orient": "right", "values": [0, 100, 200, 300, 400, 500, 600], "labels": false, "minExtent": 0, "maxExtent": 0, "tickSize": -11, "tickColor": "#262626", "tickWidth": 1, "domain": true, "domainColor": "#262626", "domainWidth": 1, "grid": false}}
}
}
]
}
